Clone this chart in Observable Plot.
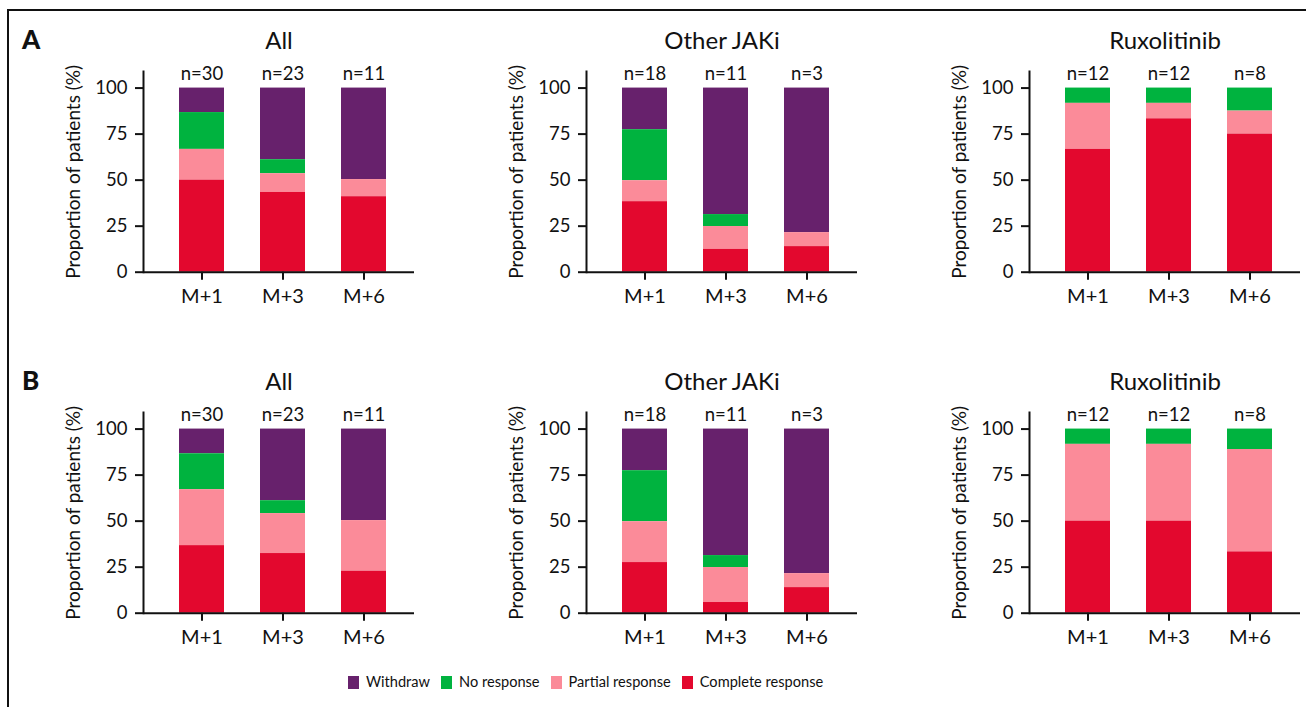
<!DOCTYPE html>
<html><head><meta charset="utf-8">
<script src="https://cdn.jsdelivr.net/npm/d3@7"></script>
<script src="https://cdn.jsdelivr.net/npm/@observablehq/plot@0.6"></script>
<style>
html,body{margin:0;padding:0;background:#fff;}
#root{position:relative;width:1306px;height:707px;overflow:hidden;font-family:Lato,sans-serif;color:#111;}
.border{position:absolute;left:7px;top:9px;width:1400px;height:800px;border:2px solid #111;}
.letter{position:absolute;font-weight:900;font-size:26px;line-height:1;}
.panel{position:absolute;}
.panel svg{max-width:none !important;}
.legend{position:absolute;left:348px;top:672px;display:flex;align-items:center;font-size:14.6px;line-height:20px;}
.item{display:flex;align-items:center;margin-right:11px;}
.sw{width:11px;height:13px;margin-right:7px;}
</style></head><body><div id="root"><div class="border"></div></div>
<script>
const timepoints = ["M+1", "M+3", "M+6"];
const groups = ["All", "Other JAKi", "Ruxolitinib"];
const responses = ["Withdraw", "No response", "Partial response", "Complete response"];
const responseColors = ["#67216c", "#00b33f", "#fb8b99", "#e3082e"];
const yTicks = [0, 25, 50, 75, 100];
const panelLetters = ["A", "B"];
const yLabel = "Proportion of patients (%)";
const nPatients = [[30, 23, 11], [18, 11, 3], [12, 12, 8]];

// Segment percentages: rows = groups, columns = timepoints
const completeA = [[50, 43.3, 41], [38.3, 12.4, 13.9], [66.7, 83.3, 75]];
const partialA  = [[16.7, 10.2, 9.3], [11.4, 12.4, 7.6], [25, 8.4, 12.5]];
const noRespA   = [[20, 7.6, 0], [27.7, 6.5, 0], [8.3, 8.3, 12.5]];
const withdrawA = [[13.3, 38.9, 49.7], [22.6, 68.7, 78.5], [0, 0, 0]];

const completeB = [[36.7, 32.4, 22.8], [27.5, 5.8, 13.9], [50, 50, 33.3]];
const partialB  = [[30.4, 21.7, 27.5], [22.2, 19, 7.6], [41.7, 41.7, 55.6]];
const noRespB   = [[19.5, 7, 0], [27.7, 6.5, 0], [8.3, 8.3, 11.1]];
const withdrawB = [[13.4, 38.9, 49.7], [22.6, 68.7, 78.5], [0, 0, 0]];

const rows = [
  {withdraw: withdrawA, noResp: noRespA, partial: partialA, complete: completeA},
  {withdraw: withdrawB, noResp: noRespB, partial: partialB, complete: completeB}
];

const root = document.getElementById("root");
const axisXs = [143.3, 585.7, 1028.7];
const rowTops = [0, 341];
const mL = 143, mR = 10, mT = 71, mB = 40.3, plotW = 271;
const W = mL + plotW + mR, H = mT + 200.7 + mB;

rows.forEach((row, r) => {
  const letter = document.createElement("div");
  letter.className = "letter";
  letter.textContent = panelLetters[r];
  letter.style.left = "22px";
  letter.style.top = (rowTops[r] + 26) + "px";
  root.appendChild(letter);

  groups.forEach((g, gi) => {
    const data = [];
    timepoints.forEach((t, ti) => {
      const vals = [row.withdraw[gi][ti], row.noResp[gi][ti], row.partial[gi][ti], row.complete[gi][ti]];
      responses.forEach((resp, ri) => data.push({t, r: resp, v: vals[ri]}));
    });
    const chart = Plot.plot({
      width: W,
      height: H,
      marginLeft: mL, marginRight: mR, marginTop: mT, marginBottom: mB,
      style: {fontFamily: "Lato, sans-serif", fontSize: "18px", color: "#111", background: "transparent", overflow: "visible"},
      x: {type: "band", domain: timepoints, paddingInner: 0.44, paddingOuter: 0.38, align: 0.56},
      y: {domain: [0, 109]},
      color: {domain: responses, range: responseColors},
      marks: [
        Plot.barY(data, {x: "t", y: "v", fill: "r", order: ["Complete response", "Partial response", "No response", "Withdraw"]}),
        Plot.frame({anchor: "left", stroke: "#111", strokeWidth: 2}),
        Plot.ruleY([0], {stroke: "#111", strokeWidth: 2}),
        Plot.axisY({ticks: yTicks, tickSize: 8, tickPadding: 8, label: null, fontSize: 18.5, stroke: "#111", strokeWidth: 2}),
        Plot.axisX({tickSize: 8, tickPadding: 9, label: null, fontSize: 20, stroke: "#111", strokeWidth: 2}),
        Plot.text(timepoints, {x: d => d, y: 100, text: (d, i) => "n=" + nPatients[gi][i], dy: -8, lineAnchor: "bottom", fontSize: 18.5, fill: "#111"}),
        Plot.text([g], {frameAnchor: "top", dy: -23, lineAnchor: "bottom", fontSize: 24, fill: "#111"}),
        Plot.text([yLabel], {frameAnchor: "left", rotate: -90, dx: -77, textAnchor: "middle", lineAnchor: "top", fontSize: 19, fill: "#111"})
      ]
    });
    chart.style.maxWidth = "none";
    const wrap = document.createElement("div");
    wrap.className = "panel";
    wrap.style.left = (axisXs[gi] - mL) + "px";
    wrap.style.top = rowTops[r] + "px";
    wrap.style.width = W + "px";
    wrap.style.height = H + "px";
    wrap.appendChild(chart);
    root.appendChild(wrap);
  });
});

const legend = document.createElement("div");
legend.className = "legend";
responses.forEach((resp, i) => {
  const item = document.createElement("div");
  item.className = "item";
  const sw = document.createElement("div");
  sw.className = "sw";
  sw.style.background = responseColors[i];
  const lab = document.createElement("span");
  lab.textContent = resp;
  item.appendChild(sw);
  item.appendChild(lab);
  legend.appendChild(item);
});
root.appendChild(legend);
</script></body></html>
